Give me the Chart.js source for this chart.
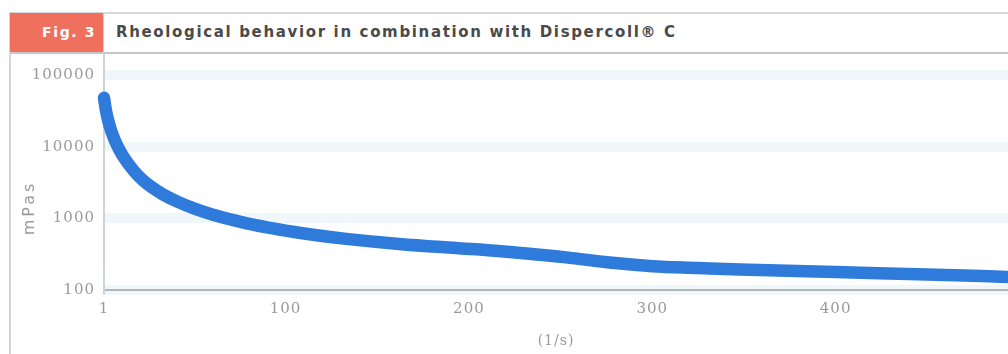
<!DOCTYPE html>
<html>
<head>
<meta charset="utf-8">
<script src="https://cdn.jsdelivr.net/npm/chart.js@4.4.1/dist/chart.umd.min.js"></script>
<style>
  html, body { margin: 0; padding: 0; background: #ffffff; }
  body { width: 1008px; height: 354px; position: relative; overflow: hidden; }
  .frame-left { position: absolute; left: 9px; top: 13px; width: 2px; height: 341px; background: #d4d4d4; }
  .hdr-top { position: absolute; left: 9px; top: 12px; width: 999px; height: 2px; background: #d8d8d8; }
  .hdr-bot { position: absolute; left: 9px; top: 52px; width: 999px; height: 2px; background: #c6c6c6; }
  .fig { position: absolute; left: 10px; top: 13px; width: 93px; height: 39px; background: #ef705c;
         color: #fff; font: bold 14px "DejaVu Sans", sans-serif; letter-spacing: 1.6px;
         line-height: 39px; text-align: right; box-sizing: border-box; padding-right: 7px; }
  .sep { position: absolute; left: 103px; top: 13px; width: 1px; height: 39px; background: #cfcfcf; }
  .title { position: absolute; left: 116px; top: 13px; height: 39px;
           font: bold 15px "DejaVu Sans", sans-serif; line-height: 39px; letter-spacing: 1.65px;
           color: #4a4a4a; white-space: nowrap; }
  #wrap { position: absolute; left: 0; top: 36px; width: 1008px; height: 318px; }
</style>
</head>
<body>
<div class="hdr-top"></div>
<div class="hdr-bot"></div>
<div class="frame-left"></div>
<div class="fig">Fig. 3</div>
<div class="sep"></div>
<div class="title">Rheological behavior in combination with Dispercoll® C</div>
<div id="wrap"><canvas id="chart" width="1008" height="318"></canvas></div>
<script>
// Shear rate (1/s)
const shearRate = [1, 2, 3.3, 5, 7, 9.5, 12.4, 17, 22, 27, 33, 41, 50, 60, 76, 90, 104, 118, 133, 162, 185, 206, 230, 253, 278, 300, 325, 348, 400, 450, 494];
// Viscosity (mPas)
const viscosity = [48000, 32700, 23100, 16400, 12100, 8930, 6720, 4700, 3440, 2720, 2170, 1710, 1380, 1135, 887, 748, 649, 575, 517, 439, 397, 367, 325, 285, 240, 215, 203, 193, 178, 165, 152];
const xTicks = [1, 100, 200, 300, 400];
const yTicks = [100, 1000, 10000, 100000];

const points = shearRate.map((x, i) => ({ x: x, y: viscosity[i] }));

// Spaced-out lettering for all axis text
const spacedText = {
  id: 'spacedText',
  beforeLayout(chart) { chart.ctx.letterSpacing = '1px'; },
  beforeDraw(chart) { chart.ctx.letterSpacing = '1px'; }
};

// Rotated unit label for the viscosity axis
const yUnitLabel = {
  id: 'yUnitLabel',
  afterDraw(chart) {
    const ctx = chart.ctx;
    ctx.save();
    ctx.letterSpacing = '3px';
    ctx.translate(30, 172);
    ctx.rotate(-Math.PI / 2);
    ctx.font = '16px "DejaVu Sans", sans-serif';
    ctx.fillStyle = '#9a9a9a';
    ctx.textAlign = 'center';
    ctx.textBaseline = 'middle';
    ctx.fillText('mPas', 0, 0);
    ctx.restore();
  }
};

new Chart(document.getElementById('chart'), {
  type: 'line',
  data: {
    datasets: [{
      data: points,
      borderColor: '#2f7bdc',
      borderWidth: 12.5,
      borderCapStyle: 'round',
      borderJoinStyle: 'round',
      pointRadius: 0,
      cubicInterpolationMode: 'monotone',
      clip: false,
      fill: false
    }]
  },
  options: {
    responsive: false,
    animation: false,
    plugins: { legend: { display: false }, tooltip: { enabled: false } },
    scales: {
      x: {
        type: 'linear',
        min: 1,
        max: 494,
        afterBuildTicks: (s) => { s.ticks = xTicks.map(v => ({ value: v })); },
        afterFit: (s) => { s.height = 64; },
        grid: { display: false, drawTicks: false },
        border: { display: true, color: '#b3b6b8', width: 2 },
        ticks: { color: '#9a9a9a', font: { family: '"DejaVu Serif", serif', size: 15 }, padding: 10, maxRotation: 0 },
        title: { display: true, text: '(1/s)', color: '#9a9a9a', font: { family: '"DejaVu Serif", serif', size: 14 }, padding: { top: 4 } }
      },
      y: {
        type: 'logarithmic',
        min: 100,
        max: 196300,
        afterBuildTicks: (s) => { s.ticks = yTicks.map(v => ({ value: v })); },
        afterFit: (s) => { s.width = 104; },
        grid: { color: 'rgba(226,239,247,0.5)', lineWidth: 10, drawTicks: false },
        border: { display: true, color: '#cdd3d6', width: 2 },
        ticks: {
          color: '#9a9a9a',
          font: { family: '"DejaVu Serif", serif', size: 15 },
          padding: 9,
          callback: (v) => String(v)
        }
      }
    }
  },
  plugins: [spacedText, yUnitLabel]
});
</script>
</body>
</html>
